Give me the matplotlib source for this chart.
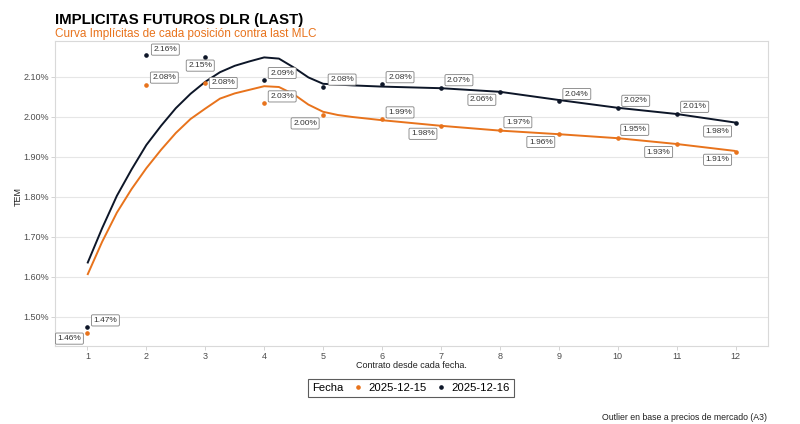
import numpy as np
import matplotlib
matplotlib.use('Agg')
import matplotlib.pyplot as plt
from matplotlib.lines import Line2D

plt.rcParams['font.family'] = ['Liberation Sans', 'DejaVu Sans']

# contract number (months from each date)
contratos = list(range(1, 13))

# implied rates (TEM, %) per date
tem_1215 = [1.461, 2.081, 2.085, 2.034, 2.004, 1.994, 1.978, 1.967, 1.9575, 1.948, 1.9325, 1.913]
tem_1216 = [1.474, 2.156, 2.151, 2.0925, 2.076, 2.082, 2.072, 2.063, 2.040, 2.023, 2.008, 1.984]

# smoothed curves
curva_x = [1.0, 1.25, 1.5, 1.75, 2.0, 2.25, 2.5, 2.75, 3.0, 3.25, 3.5, 3.75, 4.0,
           4.25, 4.5, 4.75, 5.0, 5.25, 5.5, 6, 7, 8, 9, 10, 11, 12]
curva_1215 = [1.605, 1.688, 1.761, 1.820, 1.872, 1.918, 1.960, 1.995, 2.021, 2.046, 2.059,
              2.068, 2.077, 2.075, 2.057, 2.031, 2.013, 2.005, 2.000, 1.992, 1.978, 1.966,
              1.957, 1.947, 1.9325, 1.915]
curva_1216 = [1.634, 1.722, 1.803, 1.869, 1.930, 1.978, 2.022, 2.058, 2.088, 2.112, 2.128,
              2.139, 2.149, 2.146, 2.124, 2.099, 2.083, 2.081, 2.079, 2.076, 2.072, 2.063,
              2.0425, 2.023, 2.0075, 1.986]

yticks = [1.5, 1.6, 1.7, 1.8, 1.9, 2.0, 2.1]

# label offsets (pixels) from each point, as placed in the original
off_1215 = [(-18, -6), (18, 7), (18, 0), (18, 7), (-18, -8), (18, 7),
            (-18, -8), (18, 8), (-18, -8), (17, 8), (-18, -8), (-18, -8)]
off_1216 = [(18, 7), (19, 5), (-5, -9), (18, 7), (19, 7), (18, 7),
            (18, 8), (-18, -8), (18, 7), (18, 7), (18, 7), (-18, -8)]

naranja = '#E8731C'
oscuro = '#0D1628'

fig = plt.figure(figsize=(8, 4.24), dpi=100)
ax = fig.add_axes([55/800, 1 - 346/424, (768-55)/800, (346-41)/424])

ax.plot(curva_x, curva_1215, color=naranja, lw=1.4, zorder=2, solid_capstyle='butt')
ax.plot(curva_x, curva_1216, color=oscuro, lw=1.4, zorder=2, solid_capstyle='butt')
ax.plot(contratos, tem_1215, 'o', color=naranja, ms=2.3, zorder=3)
ax.plot(contratos, tem_1216, 'o', color=oscuro, ms=2.3, zorder=3)

box = dict(boxstyle='round,pad=0.25,rounding_size=0.15', fc='white', ec='#808080', lw=0.6)
for serie, offs in [(tem_1215, off_1215), (tem_1216, off_1216)]:
    for x, v, (dx, dy) in zip(contratos, serie, offs):
        ax.annotate(f'{v:.2f}%', (x, v), xytext=(dx, dy), textcoords='offset pixels',
                    ha='center', va='center', fontsize=6, color='#333333',
                    bbox=box, zorder=4)

ax.set_xlim(0.45, 12.55)
ax.set_ylim(1.4275, 2.19)
ax.set_xticks(contratos)
ax.set_yticks(yticks)
ax.set_yticklabels([f'{t:.2f}%' for t in yticks])
ax.grid(axis='y', color='#e6e6e6', lw=0.8)
ax.set_axisbelow(True)
ax.tick_params(length=3, width=0.6, color='#cccccc', labelsize=6.5, labelcolor='#4d4d4d', pad=1.5)
for s in ax.spines.values():
    s.set_color('#d9d9d9')
    s.set_linewidth(0.8)

fig.text(18/800, 1 - 197/424, 'TEM', rotation=90, ha='center', va='center', fontsize=6.5, color='#222222')
fig.text(411/800, 1 - 366/424, 'Contrato desde cada fecha.', ha='center', va='center', fontsize=6.5, color='#222222')

fig.text(55/800, 1 - 24/424, 'IMPLICITAS FUTUROS DLR (LAST)', fontsize=10.8, fontweight='bold', va='baseline')
fig.text(55/800, 1 - 36.5/424, 'Curva Implícitas de cada posición contra last MLC', fontsize=8.5,
         color=naranja, va='baseline')
fig.text(767/800, 1 - 417/424, 'Outlier en base a precios de mercado (A3)', ha='right', va='center',
         fontsize=6.3, color='#222222')

handles = [Line2D([], [], ls='none', marker='o', ms=2.3, color=naranja),
           Line2D([], [], ls='none', marker='o', ms=2.3, color=oscuro)]
leg = fig.legend(handles, ['2025-12-15', '2025-12-16'], title='Fecha', ncol=2,
                 loc='center', bbox_to_anchor=(411/800, 1 - 388/424),
                 fontsize=8.1, title_fontsize=8.1, frameon=True, fancybox=False,
                 edgecolor='#333333', handlelength=0.8, handletextpad=0.5,
                 columnspacing=0.9, borderpad=0.35)
leg.get_frame().set_linewidth(0.8)
# put the title to the left of the entries
c = leg.get_children()[0]
title = c.get_children()[0]
hpack = c.get_children()[1]
c._children = [hpack]
hpack._children = [title] + hpack.get_children()

fig.savefig('out.png', dpi=100)
